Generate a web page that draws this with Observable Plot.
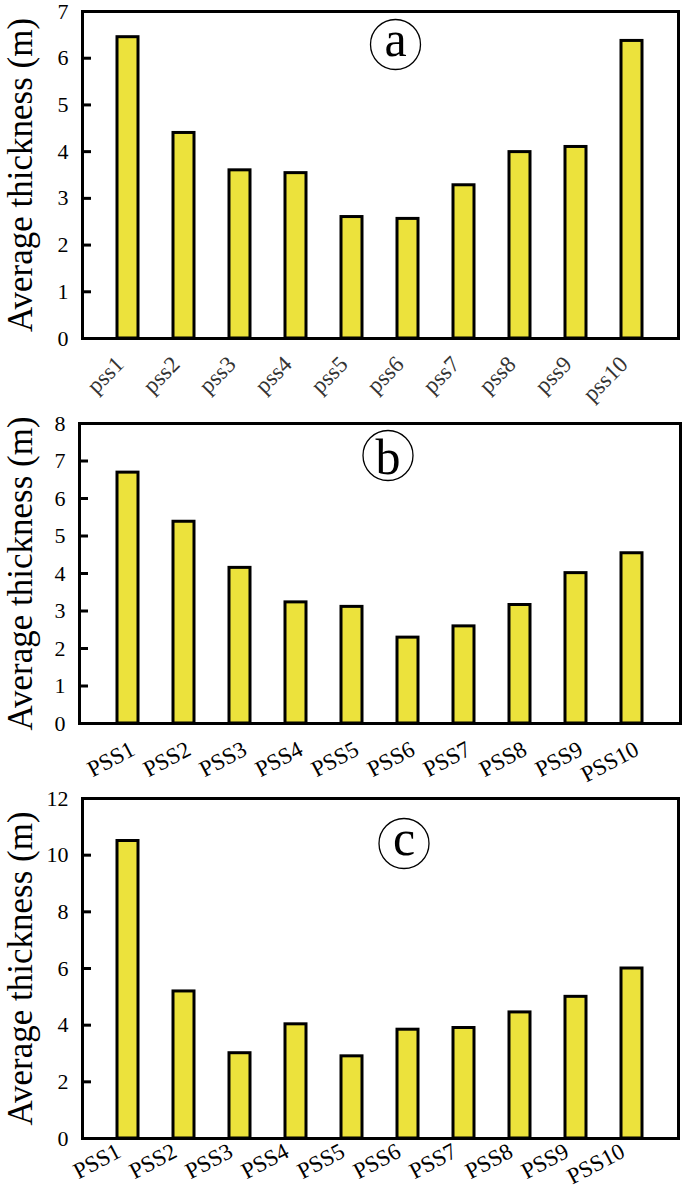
<!DOCTYPE html>
<html><head><meta charset="utf-8">
<script src="https://cdn.jsdelivr.net/npm/d3@7"></script>
<script src="https://cdn.jsdelivr.net/npm/@observablehq/plot@0.6"></script>
<style>
body{margin:0;background:#fff;}
#chart{width:685px;}
#chart svg{display:block;overflow:visible;}
#chart svg, #chart svg text, #chart svg g {font-family: "Liberation Serif", "Times New Roman", serif !important;}
</style></head><body><div id="chart"></div>
<script>
const categoriesA = ["pss1","pss2","pss3","pss4","pss5","pss6","pss7","pss8","pss9","pss10"];
const valuesA = [6.45, 4.40, 3.60, 3.54, 2.60, 2.56, 3.28, 3.99, 4.10, 6.37];
const categoriesBC = ["PSS1","PSS2","PSS3","PSS4","PSS5","PSS6","PSS7","PSS8","PSS9","PSS10"];
const valuesB = [6.69, 5.38, 4.15, 3.23, 3.11, 2.29, 2.59, 3.16, 4.01, 4.54];
const valuesC = [10.5, 5.19, 3.01, 4.03, 2.9, 3.84, 3.9, 4.45, 5.0, 6.0];
const yTicksA = [0,1,2,3,4,5,6,7];
const yTicksB = [0,1,2,3,4,5,6,7,8];
const yTicksC = [0,2,4,6,8,10,12];
const panelLetters = ["a","b","c"];
const yTitle = "Average thickness (m)";

const barFill = "#ece23c";

function panel(o) {
  const data = o.cats.map((c, i) => ({name: c, value: o.vals[i]}));
  return Plot.plot({
    width: 685, height: o.height,
    marginTop: o.mt, marginBottom: o.mb, marginLeft: o.ml, marginRight: o.mr,
    style: {background: "white", color: "black", overflow: "visible", fontFamily: "Liberation Serif"},
    x: {domain: o.cats, padding: 0.62, label: null},
    y: {domain: [0, o.yMax], label: null},
    marks: [
      Plot.barY(data, {x: "name", y: "value", fill: barFill, stroke: "black", strokeWidth: 3}),
      Plot.frame({stroke: "black", strokeWidth: 3}),
      Plot.axisY({ticks: o.yTicks, tickFormat: d3.format("d"), tickSize: -9, tickPadding: 23, strokeWidth: 3,
        fontSize: 22, label: null}),
      Plot.axisX({tickSize: 0, tickRotate: o.xRotate, tickPadding: o.xPad, dx: o.xDx, fontSize: 23,
        fill: o.xColor, label: null}),
      Plot.text([yTitle], {text: d => d, frameAnchor: "left", textAnchor: "middle", lineAnchor: "middle",
        rotate: -90, dx: -62 + (82 - o.ml), fontSize: 35}),
      Plot.dot([o.letter], {frameAnchor: "top", dx: o.lDx, dy: o.lDy, r: 25, stroke: "black", strokeWidth: 1.3, fill: "white"}),
      Plot.text([o.letter], {text: d => d, frameAnchor: "top", textAnchor: "middle", lineAnchor: "middle",
        dx: o.lDx, dy: o.lDy + o.tDy, fontSize: 50})
    ]
  });
}

const chart = document.getElementById("chart");
chart.append(panel({cats: categoriesA, vals: valuesA, yTicks: yTicksA, yMax: 7, letter: panelLetters[0],
  height: 405, mt: 11, mb: 67, ml: 82, mr: 7, xRotate: -45, xPad: 22, xDx: -8, xColor: "#333",
  lDx: 15, lDy: 33, tDy: -5}));
chart.append(panel({cats: categoriesBC, vals: valuesB, yTicks: yTicksB, yMax: 8, letter: panelLetters[1],
  height: 380, mt: 18, mb: 62, ml: 79, mr: 5, xRotate: -28, xPad: 24, xDx: 5, xColor: "black",
  lDx: 8, lDy: 32, tDy: 2}));
chart.append(panel({cats: categoriesBC, vals: valuesC, yTicks: yTicksC, yMax: 12, letter: panelLetters[2],
  height: 415, mt: 13, mb: 62, ml: 82, mr: 7, xRotate: -28, xPad: 11, xDx: -9, xColor: "black",
  lDx: 23.5, lDy: 45, tDy: -4.5}));
</script>
</body></html>
